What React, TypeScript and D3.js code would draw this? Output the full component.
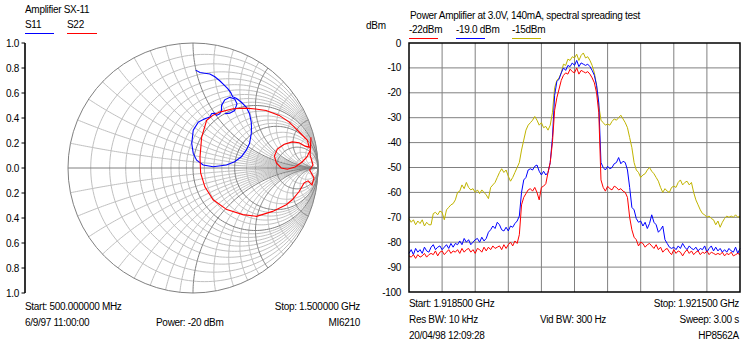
import React from "react";
import * as d3 from "d3";

// ---------- Smith chart data ----------
const smithTicks = [1.0, 0.8, 0.6, 0.4, 0.2, 0.0, -0.2, -0.4, -0.6, -0.8, -1.0];
const rValues = [0.1, 0.2, 0.3, 0.4, 0.5, 0.6, 0.7, 0.8, 0.9, 1, 1.2, 1.4, 1.6, 1.8, 2, 2.5, 3, 4, 5, 7, 10, 20];
const xValues = [0.1, 0.2, 0.3, 0.4, 0.5, 0.6, 0.7, 0.8, 0.9, 1, 1.2, 1.4, 1.6, 1.8, 2, 2.5, 3, 4, 5, 7, 10, 20];
const darkValues = [1, 2, 5];

const s11Re = [0.021, 0.056, 0.095, 0.135, 0.175, 0.214, 0.254, 0.278, 0.302, 0.317, 0.349, 0.387, 0.426, 0.452, 0.466, 0.468, 0.466, 0.452, 0.426, 0.387, 0.333, 0.267, 0.161, 0.082, 0.029, 0.002, -0.01, 0.002, 0.042, 0.095, 0.135, 0.148, 0.175, 0.188, 0.214, 0.228, 0.228, 0.254, 0.294, 0.333, 0.352, 0.333, 0.294, 0.254];
const s11Im = [0.783, 0.764, 0.758, 0.752, 0.73, 0.698, 0.659, 0.635, 0.603, 0.571, 0.556, 0.526, 0.487, 0.434, 0.367, 0.325, 0.275, 0.196, 0.143, 0.09, 0.05, 0.024, 0.01, 0.024, 0.063, 0.117, 0.196, 0.302, 0.367, 0.394, 0.407, 0.434, 0.439, 0.421, 0.434, 0.46, 0.5, 0.545, 0.566, 0.553, 0.513, 0.46, 0.439, 0.434];

const s22Re = [0.159, 0.214, 0.32, 0.426, 0.5, 0.585, 0.69, 0.77, 0.823, 0.875, 0.915, 0.929, 0.897, 0.849, 0.794, 0.73, 0.675, 0.651, 0.667, 0.706, 0.754, 0.817, 0.873, 0.913, 0.937, 0.944, 0.937, 0.96, 0.933, 0.968, 0.952, 0.921, 0.889, 0.849, 0.794, 0.746, 0.637, 0.508, 0.399, 0.27, 0.161, 0.095, 0.061, 0.056, 0.069, 0.109, 0.159];
const s22Im = [0.421, 0.447, 0.474, 0.479, 0.472, 0.46, 0.421, 0.367, 0.315, 0.262, 0.222, 0.167, 0.175, 0.202, 0.209, 0.19, 0.151, 0.095, 0.04, 0.0, -0.01, 0.008, 0.048, 0.09, 0.143, 0.246, 0.103, 0.024, -0.016, -0.079, -0.135, -0.103, -0.119, -0.188, -0.254, -0.294, -0.347, -0.387, -0.373, -0.333, -0.254, -0.151, -0.04, 0.087, 0.246, 0.381, 0.421];

// ---------- Spectrum data ----------
const fStart = 1.9185;
const fStop = 1.9215;
const freqDivisions = 10;
const dbTicks = [0, -10, -20, -30, -40, -50, -60, -70, -80, -90, -100];

const trace15 = [
  -70.5, -72, -71, -73, -71.5, -72.5, -71, -73.5, -72, -73,
  -73, -68.5, -68, -69, -67.5, -68, -71, -67, -66, -65,
  -64.5, -63, -60, -59.5, -57, -58.5, -56, -58, -59, -58.5,
  -60, -59, -60.5, -59, -60, -61, -62.5, -58, -57, -56,
  -54, -52, -50.5, -52, -51, -53.5, -55.5, -54, -52, -50,
  -48, -43, -39, -35, -33, -32, -31, -29.5, -31, -33,
  -32, -34, -33.5, -35, -33, -28, -18, -15, -14, -12,
  -8.5, -9, -6.5, -7, -5.5, -6, -4.5, -7, -5, -4,
  -6, -5.5, -7, -9, -12, -17, -25, -31, -32, -33,
  -32.5, -33, -31.5, -30.5, -31, -30, -29, -30.5, -32, -34,
  -38, -42, -48, -51, -52, -54, -53, -52.5, -51, -50,
  -51.5, -52.5, -54, -55.5, -58, -60, -58.5, -59.5, -60, -58,
  -57.5, -58, -56, -55, -57, -56, -55.5, -57, -56, -60,
  -63, -65, -67, -68.5, -69, -70, -69.5, -70.5, -71, -73,
  -71.5, -74, -72, -70.5, -69.5, -70, -69.5, -70, -69, -70, -69.5,
];

const trace19 = [
  -84.5, -83, -85, -82.5, -84, -83, -84.5, -82, -83.5, -84,
  -82, -81, -83, -82, -81.5, -83, -82, -81, -82.5, -80.5,
  -82, -80.5, -81, -79.5, -81, -78.5, -80, -79, -81, -80,
  -79, -78.5, -80, -78, -79.5, -78.5, -76, -75, -73.5, -74.5,
  -72, -73, -75, -75.5, -74, -75.5, -73.5, -74, -72.5, -71.5,
  -69.5, -60, -55, -54, -51, -50.5, -51, -49.5, -49, -51.5,
  -53, -51.5, -53, -52, -48, -38, -21, -15.5, -14.5, -12,
  -10, -11, -9, -9.5, -8, -9, -7, -9.5, -8, -8.5,
  -9, -8.5, -9.5, -11, -13, -17, -24, -48, -50, -51,
  -49.5, -50.5, -50, -48.5, -48, -46, -48.5, -47.5, -48, -51,
  -58, -66, -67, -70.5, -72, -71.5, -73.5, -72, -74.5, -72.5,
  -69, -72, -73, -76, -75, -73.5, -79, -80.5, -82, -82.5,
  -82, -83, -81.5, -82.5, -80.5, -82, -83, -81.5, -82.5, -83,
  -82, -83.5, -82.5, -83, -81.5, -84, -82.5, -81.5, -83.5, -82,
  -83.5, -82.5, -84, -83, -84, -82.5, -83.5, -84, -82, -84.5, -82.5,
];

const trace22 = [
  -85.5, -86, -85, -86.5, -85, -86, -85.5, -84.5, -86, -85,
  -84.5, -85, -83.5, -85.5, -84, -83.5, -85, -84, -83, -84.5,
  -83.5, -84, -83, -84.5, -82.5, -84, -83, -82.5, -84, -83,
  -84.5, -82.5, -83, -84, -82, -83.5, -82, -83, -81.5, -82.5,
  -82, -81.5, -83, -81, -82.5, -81, -80, -81.5, -79.5, -80.5,
  -77, -65, -62, -60.5, -59, -58.5, -59.5, -58, -60, -63,
  -58, -57.5, -56.5, -52, -48, -40, -27, -22, -18.5, -15,
  -13, -12, -12.5, -10.5, -11.5, -12, -10, -12.5, -11, -11.5,
  -12, -11.5, -12.5, -14, -16, -20, -28, -55, -58, -59.5,
  -57.5, -58.5, -59, -57.5, -58, -59, -58.5, -59.5, -60, -62,
  -70, -75, -78, -79, -81.5, -80, -80.5, -82, -81, -80.5,
  -81.5, -82.5, -81, -83, -82, -84, -83, -82.5, -84, -85,
  -83, -84.5, -83.5, -84, -85.5, -84, -83, -84.5, -83.5, -85,
  -84, -83.5, -85, -84, -84.5, -83.5, -85, -84, -84.5, -85,
  -84.5, -85, -84, -85.5, -84.5, -85, -84, -85.5, -85, -84.5, -85,
];

const FONT = "'Liberation Sans', Arial, sans-serif";
const LIGHT = "#c0c0c0";
const DARK = "#808080";
const YELLOW = "#c0b400";

function rCirclePoints(r: number): [number, number][] {
  const c = r / (1 + r);
  const rad = 1 / (1 + r);
  return d3.range(0, 361, 2).map((deg) => {
    const t = (deg * Math.PI) / 180;
    return [c + rad * Math.cos(t), rad * Math.sin(t)] as [number, number];
  });
}

function xArcPoints(x: number): [number, number][] {
  const ax = Math.abs(x);
  const cyc = 1 / ax;
  const rad = 1 / ax;
  const p1x = (ax * ax - 1) / (ax * ax + 1);
  const p1y = (2 * ax) / (ax * ax + 1);
  let a1 = Math.atan2(p1y - cyc, p1x - 1);
  if (a1 > 0) a1 -= 2 * Math.PI;
  const a0 = -Math.PI / 2;
  const n = 120;
  const pts: [number, number][] = [];
  for (let i = 0; i <= n; i++) {
    const a = a0 + ((a1 - a0) * i) / n;
    const px = 1 + rad * Math.cos(a);
    const py = cyc + rad * Math.sin(a);
    pts.push([px, x < 0 ? -py : py]);
  }
  return pts;
}

export default function App() {
  const cx = 193, cy = 168, R = 125;
  const gx = d3.scaleLinear().domain([-1, 1]).range([cx - R, cx + R]);
  const gy = d3.scaleLinear().domain([-1, 1]).range([cy + R, cy - R]);
  const gLine = d3.line<[number, number]>().x((d) => gx(d[0])).y((d) => gy(d[1]));

  const isDark = (v: number) => darkValues.includes(v);

  const gridLight: string[] = [];
  const gridDark: string[] = [];
  rValues.forEach((r) => {
    const p = gLine(rCirclePoints(r)) || "";
    (isDark(r) ? gridDark : gridLight).push(p);
  });
  xValues.forEach((x) => {
    [x, -x].forEach((xv) => {
      const p = gLine(xArcPoints(xv)) || "";
      (isDark(x) ? gridDark : gridLight).push(p);
    });
  });

  const s11 = s11Re.map((re, i) => [re, s11Im[i]] as [number, number]);
  const s22 = s22Re.map((re, i) => [re, s22Im[i]] as [number, number]);

  // Spectrum
  const px0 = 409, px1 = 740, py0 = 43, py1 = 292;
  const fx = d3.scaleLinear().domain([fStart, fStop]).range([px0, px1]);
  const fy = d3.scaleLinear().domain([-100, 0]).range([py1, py0]);
  const n = trace15.length;
  const freqOf = (i: number) => fStart + ((fStop - fStart) * i) / (n - 1);
  const sLine = d3
    .line<number>()
    .x((_, i) => fx(freqOf(i)))
    .y((d) => fy(d))
    .curve(d3.curveLinear);
  const freqGrid = d3.range(freqDivisions + 1).map((k) => fStart + ((fStop - fStart) * k) / freqDivisions);

  const txt = { fontFamily: FONT, fontSize: 10, fill: "#000", letterSpacing: -0.3 } as React.CSSProperties;

  return (
    <svg width={753} height={343} style={{ position: "absolute", left: 0, top: 0, background: "#fff" }}>
      <rect x={0} y={0} width={753} height={343} fill="#fff" />
      {/* ---------- Left: Smith chart ---------- */}
      <text x={25} y={13} style={txt}>Amplifier SX-11</text>
      <text x={25} y={28} style={txt}>S11</text>
      <line x1={25} x2={54} y1={33.5} y2={33.5} stroke="#0000ff" strokeWidth={1} />
      <text x={67} y={28} style={txt}>S22</text>
      <line x1={67} x2={97} y1={33.5} y2={33.5} stroke="#ff0000" strokeWidth={1} />

      <line x1={25} x2={25} y1={gy(1)} y2={gy(-1)} stroke="#000" strokeWidth={1.6} />
      {smithTicks.map((t, i) => (
        <g key={i}>
          <line x1={21.5} x2={25} y1={gy(t)} y2={gy(t)} stroke="#000" strokeWidth={1} />
          <text x={19} y={gy(t) + 3.5} textAnchor="end" style={txt}>
            {Math.abs(t).toFixed(1)}
          </text>
        </g>
      ))}

      {gridLight.map((d, i) => (
        <path key={"l" + i} d={d} fill="none" stroke={LIGHT} strokeWidth={1} />
      ))}
      {gridDark.map((d, i) => (
        <path key={"d" + i} d={d} fill="none" stroke={DARK} strokeWidth={1} />
      ))}
      <line x1={gx(-1)} x2={gx(1)} y1={gy(0)} y2={gy(0)} stroke={DARK} strokeWidth={1} />
      <circle cx={gx(0)} cy={gy(0)} r={R} fill="none" stroke={DARK} strokeWidth={1} />

      <path d={gLine(s11) || ""} fill="none" stroke="#0000ff" strokeWidth={1.1} />
      <path d={gLine(s22) || ""} fill="none" stroke="#ff0000" strokeWidth={1.1} />

      <text x={25} y={310} style={txt}>Start: 500.000000 MHz</text>
      <text x={360} y={310} textAnchor="end" style={txt}>Stop: 1.500000 GHz</text>
      <text x={25} y={326} style={txt}>6/9/97 11:00:00</text>
      <text x={156} y={326} style={txt}>Power: -20 dBm</text>
      <text x={360} y={326} textAnchor="end" style={txt}>MI6210</text>

      {/* ---------- Right: spectrum ---------- */}
      <text x={410} y={18.5} style={txt}>Power Amplifier at 3.0V, 140mA, spectral spreading test</text>
      <text x={366} y={29} style={txt}>dBm</text>
      <text x={409} y={33} style={txt}>-22dBm</text>
      <line x1={409} x2={438} y1={38.5} y2={38.5} stroke="#ff0000" strokeWidth={1} />
      <text x={456} y={33} style={txt}>-19.0 dBm</text>
      <line x1={456} x2={485} y1={38.5} y2={38.5} stroke="#0000ff" strokeWidth={1} />
      <text x={512} y={33} style={txt}>-15dBm</text>
      <line x1={512} x2={541} y1={38.5} y2={38.5} stroke={YELLOW} strokeWidth={1} />

      {dbTicks.map((t) => (
        <g key={"db" + t}>
          {t !== 0 && t !== -100 && (
            <line x1={px0} x2={px1} y1={fy(t)} y2={fy(t)} stroke={DARK} strokeWidth={1} />
          )}
          <text x={401} y={fy(t) + 3.5} textAnchor="end" style={txt}>
            {t}
          </text>
        </g>
      ))}
      {freqGrid.slice(1, -1).map((f, i) => (
        <line key={"fg" + i} x1={fx(f)} x2={fx(f)} y1={py0} y2={py1} stroke={DARK} strokeWidth={1} />
      ))}

      <path d={sLine(trace15) || ""} fill="none" stroke={YELLOW} strokeWidth={1} />
      <path d={sLine(trace19) || ""} fill="none" stroke="#0000ff" strokeWidth={1} />
      <path d={sLine(trace22) || ""} fill="none" stroke="#ff0000" strokeWidth={1} />

      <rect x={px0} y={py0} width={px1 - px0} height={py1 - py0} fill="none" stroke="#000" strokeWidth={1.5} />

      <text x={409} y={307} style={txt}>Start: 1.918500 GHz</text>
      <text x={739} y={307} textAnchor="end" style={txt}>Stop: 1.921500 GHz</text>
      <text x={409} y={323} style={txt}>Res BW: 10 kHz</text>
      <text x={540} y={323} style={txt}>Vid BW: 300 Hz</text>
      <text x={739} y={323} textAnchor="end" style={txt}>Sweep: 3.00 s</text>
      <text x={409} y={339} style={txt}>20/04/98 12:09:28</text>
      <text x={739} y={339} textAnchor="end" style={txt}>HP8562A</text>
    </svg>
  );
}
